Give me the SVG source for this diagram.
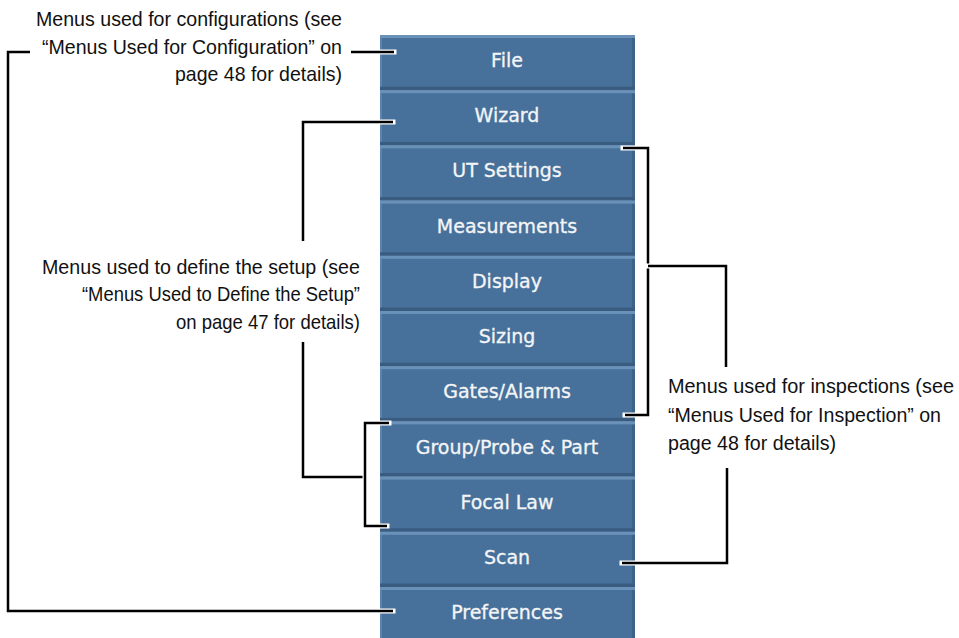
<svg xmlns="http://www.w3.org/2000/svg" width="959" height="638" viewBox="0 0 959 638">
<defs>
<style>
.bg{fill:#47719a}
.hi{fill:#6a91b8}
.lo{fill:#395c80}
.le{fill:#5a84ad}
.re{fill:#3d6389}
.bl{font-family:"DejaVu Sans",Verdana,sans-serif;font-size:19px;fill:#f4f5f7;stroke:#f4f5f7;stroke-width:0.3;text-anchor:middle}
.note{font-family:"Liberation Sans",Arial,sans-serif;font-size:21px;fill:#111}
.note2{font-family:"Liberation Sans",Arial,sans-serif;font-size:20px;fill:#111}
.end{text-anchor:end}
.halo{fill:none;stroke:#fff;stroke-width:5;stroke-linecap:square;stroke-linejoin:miter}
.ln{fill:none;stroke:#000;stroke-width:2.5;stroke-linecap:butt;stroke-linejoin:miter}
</style>
<g id="btn">
<rect class="bg" x="0" y="0" width="255" height="55.2"/>
<rect class="le" x="0" y="0" width="2" height="55.2"/>
<rect class="re" x="252" y="0" width="3" height="55.2"/>
<rect class="hi" x="0" y="0" width="255" height="3"/>
<rect class="lo" x="0" y="51.7" width="255" height="3.5"/>
</g>
</defs>
<rect width="959" height="638" fill="#fff"/>

<g id="menu-file"><use href="#btn" x="380" y="35"/><text class="bl" x="507" y="67">File</text></g>
<g id="menu-wizard"><use href="#btn" x="380" y="90.2"/><text class="bl" x="507" y="122">Wizard</text></g>
<g id="menu-ut"><use href="#btn" x="380" y="145.4"/><text class="bl" x="507" y="177">UT Settings</text></g>
<g id="menu-measurements"><use href="#btn" x="380" y="200.6"/><text class="bl" x="507" y="233">Measurements</text></g>
<g id="menu-display"><use href="#btn" x="380" y="255.8"/><text class="bl" x="507" y="288">Display</text></g>
<g id="menu-sizing"><use href="#btn" x="380" y="311"/><text class="bl" x="507" y="343">Sizing</text></g>
<g id="menu-gates"><use href="#btn" x="380" y="366.2"/><text class="bl" x="507" y="398">Gates/Alarms</text></g>
<g id="menu-group"><use href="#btn" x="380" y="421.4"/><text class="bl" x="507" y="454">Group/Probe &amp; Part</text></g>
<g id="menu-focal"><use href="#btn" x="380" y="476.6"/><text class="bl" x="507" y="509">Focal Law</text></g>
<g id="menu-scan"><use href="#btn" x="380" y="531.8"/><text class="bl" x="507" y="564">Scan</text></g>
<g id="menu-preferences"><use href="#btn" x="380" y="587"/><text class="bl" x="507" y="619">Preferences</text></g>

<g id="note-config">
<text class="note end" x="342" y="26" textLength="306" lengthAdjust="spacingAndGlyphs">Menus used for configurations (see</text>
<text class="note end" x="342" y="54" textLength="300" lengthAdjust="spacingAndGlyphs">“Menus Used for Configuration” on</text>
<text class="note end" x="342" y="81" textLength="167" lengthAdjust="spacingAndGlyphs">page 48 for details)</text>
</g>
<g id="note-setup">
<text class="note end" x="360" y="274" textLength="318" lengthAdjust="spacingAndGlyphs">Menus used to define the setup (see</text>
<text class="note end" x="360" y="301" textLength="278" lengthAdjust="spacingAndGlyphs">“Menus Used to Define the Setup”</text>
<text class="note end" x="360" y="329" textLength="184" lengthAdjust="spacingAndGlyphs">on page 47 for details)</text>
</g>
<g id="note-inspection">
<text class="note2" x="668" y="393" textLength="286" lengthAdjust="spacingAndGlyphs">Menus used for inspections (see</text>
<text class="note2" x="668" y="422" textLength="273" lengthAdjust="spacingAndGlyphs">“Menus Used for Inspection” on</text>
<text class="note2" x="668" y="450" textLength="168" lengthAdjust="spacingAndGlyphs">page 48 for details)</text>
</g>

<g id="connectors">
<path class="halo" d="M30,52 H8 V611 H393"/><path class="ln" d="M30,52 H8 V611 H393"/>
<path class="halo" d="M351,52 H394"/><path class="ln" d="M351,52 H394"/>
<path class="halo" d="M393,122 H303 V241"/><path class="ln" d="M393,122 H303 V241"/>
<path class="halo" d="M303,342 V477 H365"/><path class="ln" d="M303,342 V477 H365"/>
<path class="halo" d="M389,423 H365 V526 H387"/><path class="ln" d="M389,423 H365 V526 H387"/>
<path class="halo" d="M623,148 H648 V415 H625"/><path class="ln" d="M623,148 H648 V415 H625"/>
<path class="halo" d="M648,266 H726 V367"/><path class="ln" d="M648,266 H726 V367"/>
<path class="halo" d="M727,468 V563 H622"/><path class="ln" d="M727,468 V563 H622"/>
</g>
</svg>
